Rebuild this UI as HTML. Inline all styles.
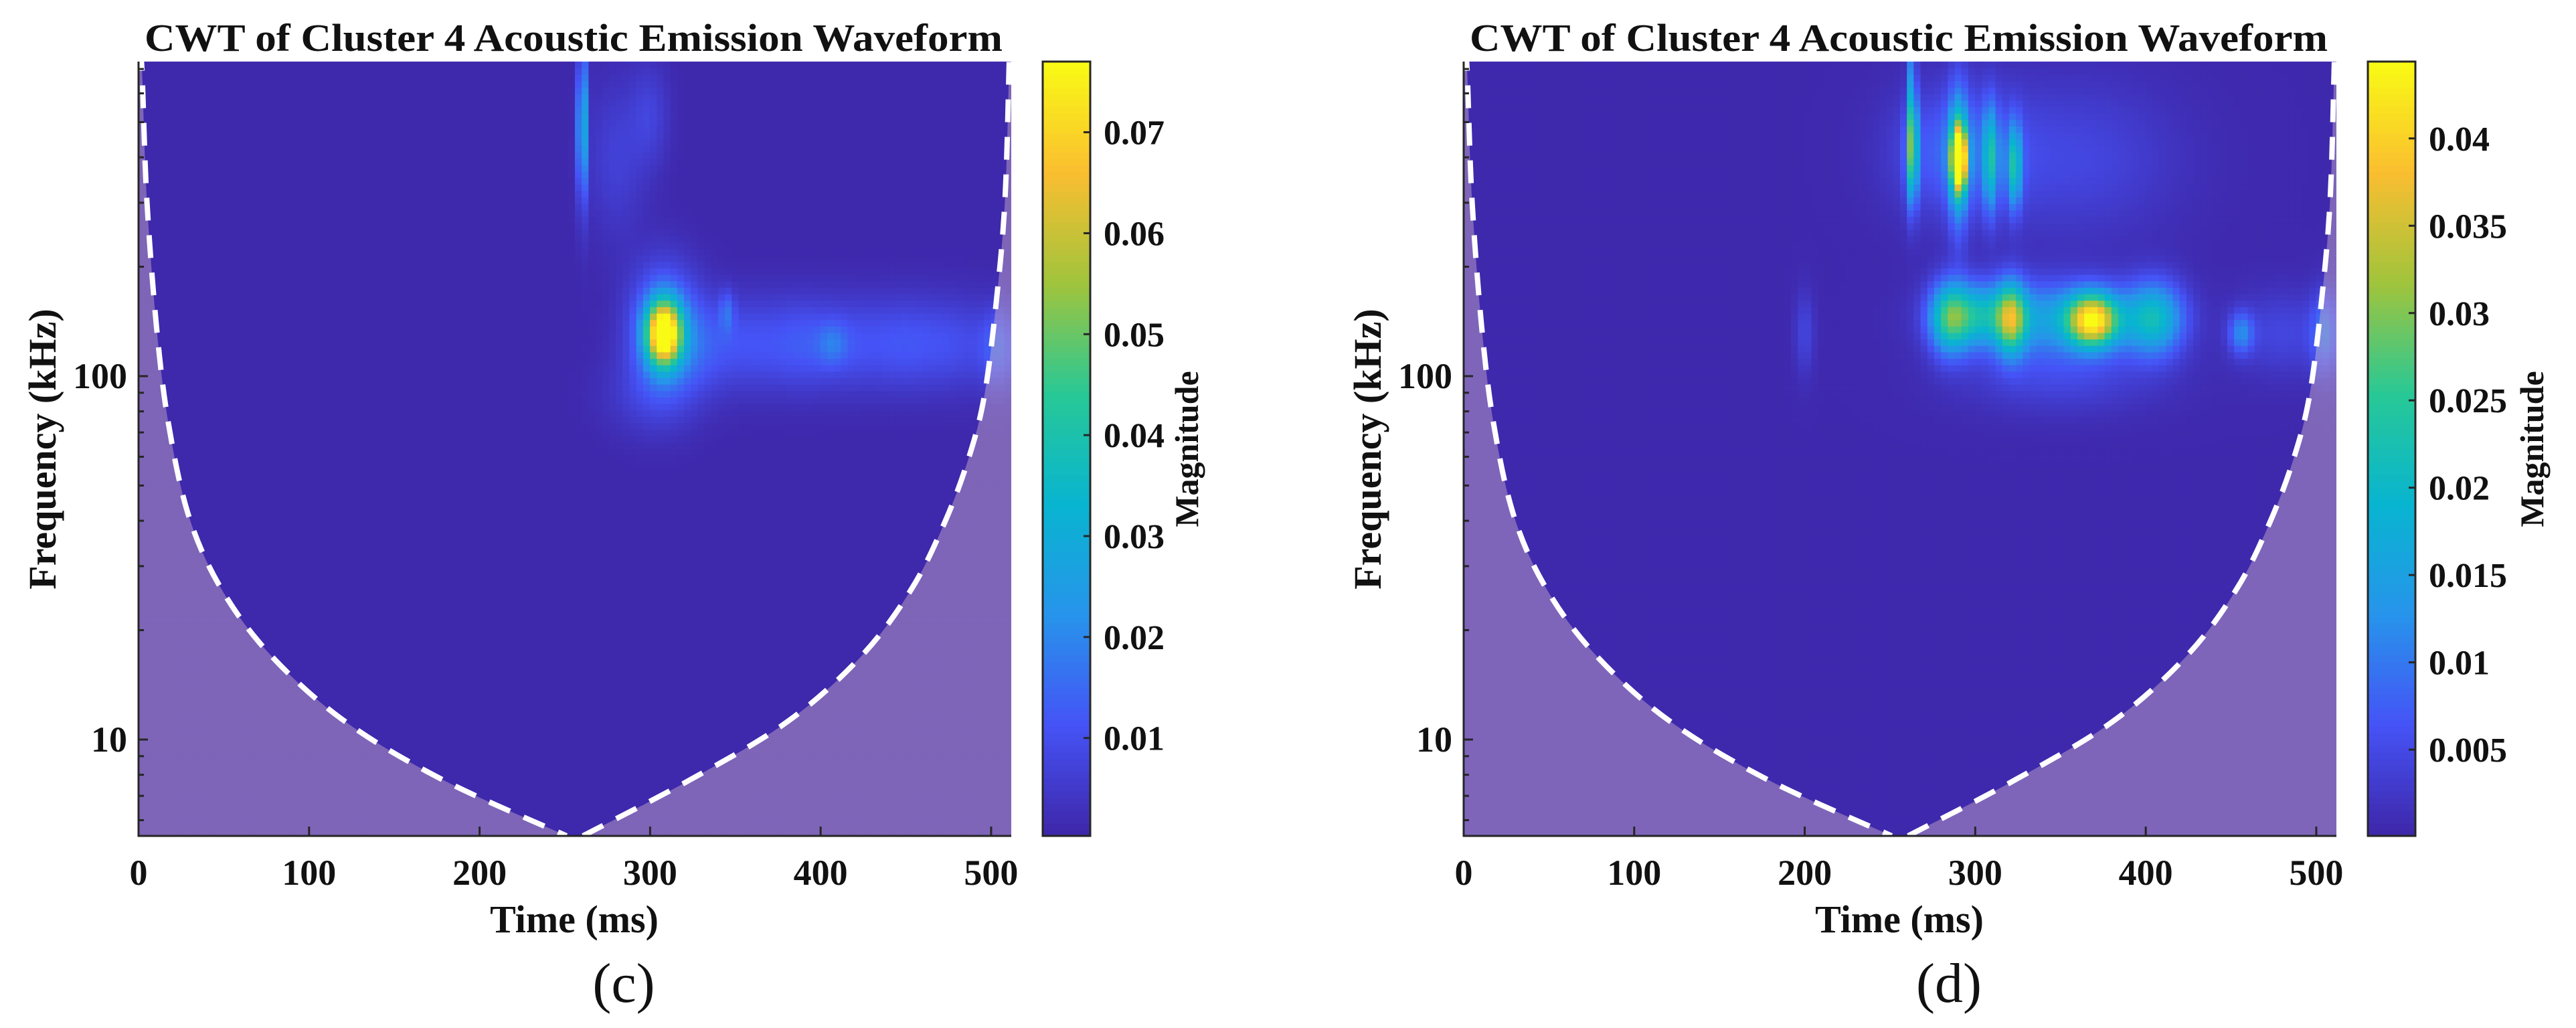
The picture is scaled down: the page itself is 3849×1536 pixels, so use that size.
<!DOCTYPE html>
<html>
<head>
<meta charset="utf-8">
<style>
  html,body{margin:0;padding:0;background:#fff;}
  svg{display:block;}
  text{font-family:"Liberation Serif","Times New Roman",serif;fill:#111;}
</style>
</head>
<body>
<svg id="fig" width="3849" height="1536" viewBox="0 0 3849 1536" xmlns="http://www.w3.org/2000/svg">
  <defs>
    <clipPath id="clipC"><rect x="207" y="92" width="1304" height="1157"/></clipPath>
    <clipPath id="clipD"><rect x="2187" y="92" width="1304" height="1157"/></clipPath>
  </defs>
  <g id="panelC"></g>
  <g id="panelD"></g>
</svg>
<script>
// ---------- data ----------
const xTicks = [0, 100, 200, 300, 400, 500];
const yTicks = [10, 100];
const yMinorTicks = [6, 7, 8, 9, 20, 30, 40, 50, 60, 70, 80, 90, 200, 300, 400, 500, 600, 700];
const cbTicksC = [0.01, 0.02, 0.03, 0.04, 0.05, 0.06, 0.07];
const cbTicksD = [0.005, 0.01, 0.015, 0.02, 0.025, 0.03, 0.035, 0.04];
const cbRangeC = [0.0003, 0.077];
const cbRangeD = [0.00006, 0.0444];
const baseC = 0.0008;
const baseD = 0.0005;

// panel (c) spectral features: time (ms), log10 freq (kHz), time spread (ms), log-freq spread, magnitude
const blobTimeC  = [308, 308, 260, 261, 330, 360, 390, 420, 450, 480, 505, 407, 345, 280, 300, 300];
const blobFreqC  = [2.12, 2.13, 2.68, 2.75, 2.09, 2.09, 2.09, 2.09, 2.09, 2.09, 2.08, 2.09, 2.18, 2.6, 2.72, 1.95];
const blobSpreadTC = [7, 14, 1.5, 2, 15, 15, 15, 15, 15, 15, 8, 6, 3, 12, 8, 20];
const blobSpreadFC = [0.06, 0.12, 0.12, 0.2, 0.09, 0.09, 0.09, 0.09, 0.09, 0.09, 0.08, 0.04, 0.04, 0.15, 0.1, 0.08];
const blobAmpC   = [0.074, 0.02, 0.035, 0.01, 0.009, 0.008, 0.01, 0.008, 0.009, 0.008, 0.012, 0.008, 0.01, 0.006, 0.006, 0.005];

// panel (d)
const blobTimeD  = [290.5, 290, 263, 309, 323, 263, 290, 360, 285, 321, 369, 345, 405, 300, 456, 480, 505, 200, 350];
const blobFreqD  = [2.6, 2.6, 2.62, 2.6, 2.58, 2.8, 2.62, 2.6, 2.16, 2.16, 2.155, 2.16, 2.16, 2.17, 2.12, 2.12, 2.12, 2.12, 2.0];
const blobSpreadTD = [3, 4, 2.5, 3, 3, 1.5, 25, 40, 8, 6, 10, 35, 12, 15, 5, 20, 6, 4, 40];
const blobSpreadFD = [0.06, 0.14, 0.1, 0.1, 0.08, 0.15, 0.12, 0.15, 0.07, 0.07, 0.05, 0.07, 0.07, 0.06, 0.04, 0.08, 0.08, 0.08, 0.07];
const blobAmpD   = [0.042, 0.015, 0.022, 0.016, 0.018, 0.012, 0.008, 0.004, 0.018, 0.022, 0.035, 0.014, 0.018, 0.014, 0.01, 0.004, 0.008, 0.004, 0.004];

// cone of influence (left half: time from start; right half: time from end) in ms and log10 kHz
const coiLeftT  = [0.3, 1.9, 4.8, 10.6, 17.8, 29.8, 49, 77.9, 121, 178.9, 251];
const coiLeftF  = [2.866, 2.853, 2.492, 2.133, 1.862, 1.61, 1.411, 1.23, 1.05, 0.888, 0.735];
const coiRightT = [1.2, 3.6, 8.4, 15.6, 25.2, 39.7, 58.9, 87.8, 131, 188.8, 251.2];
const coiRightF = [2.866, 2.492, 2.222, 1.951, 1.771, 1.59, 1.411, 1.23, 1.05, 0.888, 0.735];

// parula colormap anchors
const cmapPos = [0, 0.143, 0.286, 0.429, 0.571, 0.714, 0.857, 1];
const cmapR = [62, 69, 39, 8, 40, 160, 250, 249];
const cmapG = [38, 83, 148, 181, 200, 196, 190, 251];
const cmapB = [168, 246, 235, 208, 150, 60, 48, 20];

// ---------- layout ----------
const NS = "http://www.w3.org/2000/svg";
const T0 = 0, T1 = 511.8, LF0 = 0.735, LF1 = 2.866;
const W = 1304, TOP = 92, BOT = 1249;

function cmap(u){
  u = Math.max(0, Math.min(1, u));
  let i = 0;
  while (i < cmapPos.length - 2 && u > cmapPos[i+1]) i++;
  const f = (u - cmapPos[i]) / (cmapPos[i+1] - cmapPos[i]);
  const r = Math.round(cmapR[i] + f*(cmapR[i+1]-cmapR[i]));
  const g = Math.round(cmapG[i] + f*(cmapG[i+1]-cmapG[i]));
  const b = Math.round(cmapB[i] + f*(cmapB[i+1]-cmapB[i]));
  return "rgb(" + r + "," + g + "," + b + ")";
}
function mk(tag, attrs, parent){
  const e = document.createElementNS(NS, tag);
  for (const k in attrs) e.setAttribute(k, attrs[k]);
  parent.appendChild(e);
  return e;
}
// Catmull-Rom smooth path through points
function smoothPath(p, start){
  let d = start ? "M" + p[0][0].toFixed(1) + "," + p[0][1].toFixed(1) : "L" + p[0][0].toFixed(1) + "," + p[0][1].toFixed(1);
  for (let i = 0; i < p.length - 1; i++){
    const p0 = p[Math.max(0, i-1)], p1 = p[i], p2 = p[i+1], p3 = p[Math.min(p.length-1, i+2)];
    const c1x = p1[0] + (p2[0]-p0[0])/6, c1y = p1[1] + (p2[1]-p0[1])/6;
    const c2x = p2[0] - (p3[0]-p1[0])/6, c2y = p2[1] - (p3[1]-p1[1])/6;
    d += " C" + c1x.toFixed(1) + "," + c1y.toFixed(1) + " " + c2x.toFixed(1) + "," + c2y.toFixed(1) + " " + p2[0].toFixed(1) + "," + p2[1].toFixed(1);
  }
  return d;
}

function drawPanel(g, L, clipId, bt, bf, bst, bsf, ba, base, range, cbTicks, letter, magX){
  const xs = t => L + (t - T0) / (T1 - T0) * W;
  const ys = lf => 562 - (lf - 2) * 543;

  // heatmap
  const hm = mk("g", {"clip-path": "url(#" + clipId + ")"}, g);
  
  
  const NC = 128, NR = 120;
  const dt = (T1 - T0) / NC, dl = (LF1 - LF0) / NR;
  for (let c = 0; c < NC; c++){
    const t = T0 + (c + 0.5) * dt;
    for (let r = 0; r < NR; r++){
      const lf = LF0 + (r + 0.5) * dl;
      let v = base;
      for (let k = 0; k < bt.length; k++){
        const a = (t - bt[k]) / bst[k], b = (lf - bf[k]) / bsf[k];
        v += ba[k] * Math.exp(-0.5 * (a*a + b*b));
      }
      const x0 = xs(T0 + c*dt), x1 = xs(T0 + (c+1)*dt);
      const y0 = ys(LF0 + (r+1)*dl), y1 = ys(LF0 + r*dl);
      const cell = mk("rect", {x: x0.toFixed(1), y: y0.toFixed(1), width: (x1-x0+0.8).toFixed(1), height: (y1-y0+0.8).toFixed(1), fill: cmap((v - range[0])/(range[1]-range[0]))}, hm);
      
      
    }
  }

  // cone of influence
  const leftPts = [];
  for (let i = 0; i < coiLeftT.length; i++) leftPts.push([xs(coiLeftT[i]), ys(coiLeftF[i])]);
  const rightPts = [];
  for (let i = coiRightT.length - 1; i >= 0; i--) rightPts.push([xs(T1 - coiRightT[i]), ys(coiRightF[i])]);
  let shadeD = "M" + xs(0) + "," + BOT + " L" + xs(0) + "," + TOP + " " + smoothPath(leftPts, false) + " " + smoothPath(rightPts, false) +
    " L" + xs(T1) + "," + TOP + " L" + xs(T1) + "," + BOT + " Z";
  const shade = mk("path", {d: shadeD, fill: "rgb(205,175,200)", "fill-opacity": "0.45", "clip-path": "url(#" + clipId + ")"}, g);
  
  
  const coiL = mk("path", {d: smoothPath(leftPts, true), fill: "none", stroke: "#fff", "stroke-width": "8", "stroke-dasharray": "34 22", "clip-path": "url(#" + clipId + ")"}, g);
  
  
  const coiR = mk("path", {d: smoothPath(rightPts, true), fill: "none", stroke: "#fff", "stroke-width": "8", "stroke-dasharray": "34 22", "clip-path": "url(#" + clipId + ")"}, g);
  
  

  // axes
  const ax = mk("g", {stroke: "#262626", "stroke-width": "3"}, g);
  
  
  mk("line", {x1: L, y1: TOP, x2: L, y2: BOT + 1.5}, ax);
  mk("line", {x1: L - 1.5, y1: BOT, x2: L + W, y2: BOT}, ax);
  xTicks.forEach(t => {
    mk("line", {x1: xs(t), y1: BOT, x2: xs(t), y2: BOT - 14}, ax);
    const tl = mk("text", {x: xs(t), y: 1322, "text-anchor": "middle", "font-size": "54", "font-weight": "bold"}, g);
    tl.textContent = t;
    
    
  });
  yTicks.forEach(f => {
    const y = ys(Math.log10(f));
    mk("line", {x1: L, y1: y, x2: L + 14, y2: y}, ax);
    const tl = mk("text", {x: L - 17, y: y + 18, "text-anchor": "end", "font-size": "54", "font-weight": "bold"}, g);
    tl.textContent = f;
    
    
  });
  yMinorTicks.forEach(f => {
    const y = ys(Math.log10(f));
    if (y > TOP && y < BOT) mk("line", {x1: L, y1: y, x2: L + 8, y2: y}, ax);
  });

  // labels
  const title = mk("text", {x: L + 650, y: 76, "text-anchor": "middle", "font-size": "58", "font-weight": "bold", textLength: "1282", lengthAdjust: "spacingAndGlyphs"}, g);
  title.textContent = "CWT of Cluster 4 Acoustic Emission Waveform";
  
  
  const xl = mk("text", {x: L + 651, y: 1393, "text-anchor": "middle", "font-size": "58", "font-weight": "bold"}, g);
  xl.textContent = "Time (ms)";
  
  
  const yl = mk("text", {x: 0, y: 0, "text-anchor": "middle", "font-size": "58", "font-weight": "bold", transform: "translate(" + (L - 124) + ",671) rotate(-90)"}, g);
  yl.textContent = "Frequency (kHz)";
  
  
  const pl = mk("text", {x: L + 725, y: 1497, "text-anchor": "middle", "font-size": "84"}, g);
  pl.textContent = letter;
  
  

  // colorbar
  const CBX = L + 1351, CBW = 71;
  const cb = mk("g", {}, g);
  
  
  const NS_ = 120;
  for (let i = 0; i < NS_; i++){
    const y0 = BOT - (i+1) * (BOT - TOP) / NS_;
    mk("rect", {x: CBX, y: y0.toFixed(1), width: CBW, height: ((BOT-TOP)/NS_ + 0.8).toFixed(1), fill: cmap((i + 0.5)/NS_)}, cb);
  }
  mk("rect", {x: CBX, y: TOP, width: CBW, height: BOT - TOP, fill: "none", stroke: "#262626", "stroke-width": "3"}, cb);
  const cbY = v => BOT - (v - range[0]) / (range[1] - range[0]) * (BOT - TOP);
  cbTicks.forEach(v => {
    const y = cbY(v);
    mk("line", {x1: CBX + CBW, y1: y, x2: CBX + CBW - 10, y2: y, stroke: "#262626", "stroke-width": "3"}, cb);
    const tl = mk("text", {x: CBX + CBW + 20, y: y + 18, "font-size": "52", "font-weight": "bold"}, g);
    tl.textContent = String(v);
    
    
  });
  const ml = mk("text", {x: 0, y: 0, "text-anchor": "middle", "font-size": "50", "font-weight": "bold", transform: "translate(" + magX + ",671) rotate(-90)"}, g);
  ml.textContent = "Magnitude";
  
  
}

drawPanel(document.getElementById("panelC"), 207, "clipC", blobTimeC, blobFreqC, blobSpreadTC, blobSpreadFC, blobAmpC, baseC, cbRangeC, cbTicksC, "(c)", 1790);
drawPanel(document.getElementById("panelD"), 2187, "clipD", blobTimeD, blobFreqD, blobSpreadTD, blobSpreadFD, blobAmpD, baseD, cbRangeD, cbTicksD, "(d)", 3800);
</script>
</body>
</html>
